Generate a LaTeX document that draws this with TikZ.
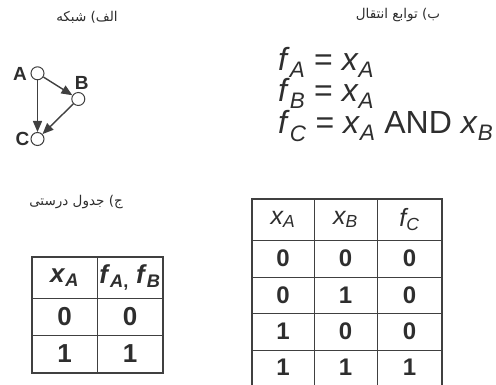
\documentclass[tikz,border=0pt]{standalone}
\usepackage{fontspec}
\setmainfont{Liberation Sans}
\newfontfamily\fa[Script=Arabic]{DejaVu Sans}
\TeXXeTstate=1
\usetikzlibrary{arrows.meta}
\definecolor{ink}{HTML}{2E2E2E}
\definecolor{rulec}{HTML}{404040}
\newcommand\sbs[1]{\textsubscript{#1}}
\begin{document}
\begin{tikzpicture}[x=1pt,y=-1pt,
  vtx/.style={circle,draw=rulec,fill=white,minimum size=13pt,inner sep=0pt,line width=1pt},
  lbl/.style={text=ink,font=\fontsize{19}{19}\selectfont\bfseries,inner sep=0pt},
  arr/.style={draw=rulec,line width=1.4pt,-{Triangle[length=11pt,width=9pt]}},
  ttl/.style={text=ink,font=\fontsize{13.5}{15}\selectfont\fa,inner sep=0pt},
  eq/.style={text=ink,font=\fontsize{32}{32}\selectfont,inner sep=0pt,anchor=base west},
  inner/.style={draw=rulec,line width=0.8pt},
  outer/.style={draw=rulec,line width=1.8pt},
  cl/.style={text=ink,font=\fontsize{26}{26}\selectfont\bfseries,inner sep=0pt},
  cr/.style={text=ink,font=\fontsize{24}{24}\selectfont\bfseries,inner sep=0pt},
  hr/.style={text=ink,font=\fontsize{25}{25}\selectfont\itshape,inner sep=0pt}]
\useasboundingbox (0,0) rectangle (496,385);
\clip (0,0) rectangle (496,385);
\fill[white] (0,0) rectangle (496,385);

% titles
\node[ttl] (t1) at (87,17) {\beginR الف) شبکه\endR};
\node[ttl] (t2) at (398,15) {\beginR ب) توابع انتقال\endR};
\node[ttl] (t3) at (76,202) {\beginR ج) جدول درستی\endR};

% network
\node[vtx] (A) at (37.5,73.3) {};
\node[vtx] (B) at (78.3,99) {};
\node[vtx] (C) at (37.5,139) {};
\node[lbl] (la) at (20,74) {A};
\node[lbl] (lb) at (81.7,83) {B};
\node[lbl] (lc) at (22.5,139) {C};
\draw[arr] (A) -- (B);
\draw[arr] (A) -- (C);
\draw[arr] (B) -- (C);

% equations
\node[eq] (e1) at (278,71) {\textit{f}\sbs{\textit{A}} = \textit{x}\sbs{\textit{A}}};
\node[eq] (e2) at (278,102) {\textit{f}\sbs{\textit{B}} = \textit{x}\sbs{\textit{A}}};
\node[eq] (e3) at (278,134) {\textit{f}\sbs{\textit{C}} = \textit{x}\sbs{\textit{A}} AND \textit{x}\sbs{\textit{B}}};

% left truth table
\draw[inner] (97,257) -- (97,373);
\draw[inner] (32,298) -- (163,298);
\draw[inner] (32,335) -- (163,335);
\draw[outer] (32,257) rectangle (163,373);
\node[cl] (lh1) at (64.5,277.5) {\textit{x}\sbs{\textit{A}}};
\node[cl] (lh2) at (130,277.5) {\textit{f}\sbs{\textit{A},} \textit{f}\sbs{\textit{B}}};
\node[cl] (l11) at (64.5,316.5) {0};
\node[cl] (l12) at (130,316.5) {0};
\node[cl] (l21) at (64.5,354) {1};
\node[cl] (l22) at (130,354) {1};

% right truth table
\draw[inner] (314,199) -- (314,392);
\draw[inner] (377,199) -- (377,392);
\draw[inner] (252,240) -- (442,240);
\draw[inner] (252,277) -- (442,277);
\draw[inner] (252,313) -- (442,313);
\draw[inner] (252,350) -- (442,350);
\draw[outer] (252,199) rectangle (442,392);
\node[hr] (rh1) at (283,219.5) {\textit{x}\sbs{\textit{A}}};
\node[hr] (rh2) at (345.5,219.5) {\textit{x}\sbs{\textit{B}}};
\node[hr] (rh3) at (409.5,219.5) {\textit{f}\sbs{\textit{C}}};
\node[cr] (r11) at (283,258.5) {0};
\node[cr] (r12) at (345.5,258.5) {0};
\node[cr] (r13) at (409.5,258.5) {0};
\node[cr] (r21) at (283,295) {0};
\node[cr] (r22) at (345.5,295) {1};
\node[cr] (r23) at (409.5,295) {0};
\node[cr] (r31) at (283,331.5) {1};
\node[cr] (r32) at (345.5,331.5) {0};
\node[cr] (r33) at (409.5,331.5) {0};
\node[cr] (r41) at (283,367.5) {1};
\node[cr] (r42) at (345.5,367.5) {1};
\node[cr] (r43) at (409.5,367.5) {1};
\end{tikzpicture}
\end{document}
